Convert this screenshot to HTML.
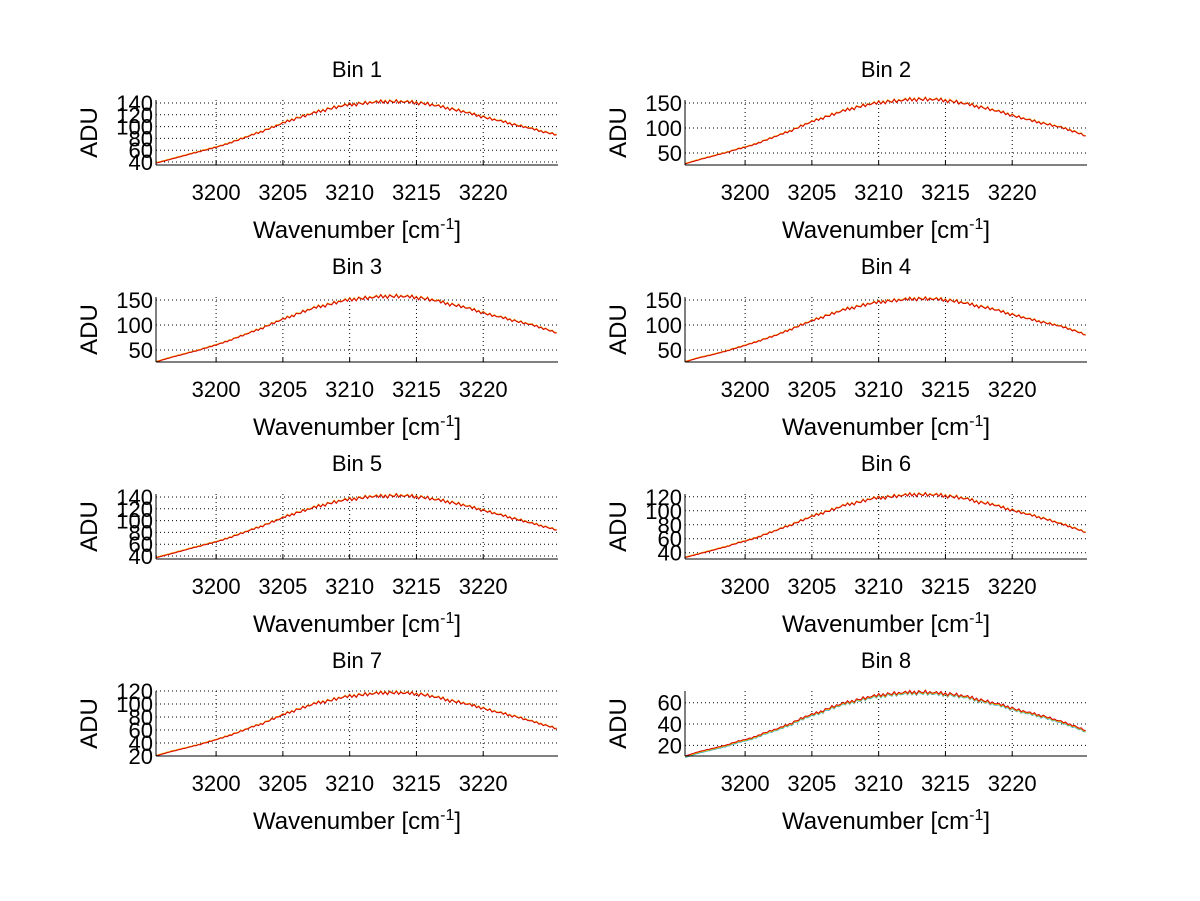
<!DOCTYPE html>
<html><head><meta charset="utf-8"><style>
html,body{margin:0;padding:0;background:#fff;}
svg{display:block;font-family:"Liberation Sans",sans-serif;}
</style></head><body>
<svg id="fig" width="1200" height="901" viewBox="0 0 1200 901"></svg>
<script>
const xTicks=[3200,3205,3210,3215,3220];
const xStart=3195.5;
const titles=["Bin 1","Bin 2","Bin 3","Bin 4","Bin 5","Bin 6","Bin 7","Bin 8"];
const yRanges=[[35,145],[26,156],[26,156],[26,156],[35,145],[31,124],[20,120],[10,71]];
const yTicks=[[40,60,80,100,120,140],[50,100,150],[50,100,150],[50,100,150],[40,60,80,100,120,140],[40,60,80,100,120],[20,40,60,80,100,120],[20,40,60]];
const bin1=[38,44,50,56,62,68,76,84,92,101,110,117,124,130,135,138,140,142,142,141,139,135,130,125,119,113,108,102,97,91,86];
const bin2=[28,36,43,50,58,65,75,85,95,107,117,126,135,142,148,152,154,157,157,156,153,148,142,136,129,121,114,108,102,94,84];
const bin3=[26,34,41,48,56,64,74,84,94,106,116,126,135,141,148,152,154,157,157,156,153,148,141,136,128,120,114,107,101,93,84];
const bin4=[26,34,40,47,55,63,72,81,92,103,113,122,131,137,143,147,149,152,152,151,148,143,137,132,124,117,110,104,98,90,80];
const bin5=[37,43,49,55,61,67,75,83,91,100,109,116,123,129,134,137,140,141,142,141,139,135,131,126,120,114,108,102,96,90,84];
const bin6=[33,38,43,48,54,59,66,73,80,88,95,101,108,112,117,119,121,123,123,122,120,117,112,109,103,98,93,88,82,76,69];
const bin7=[20,26,31,36,42,48,55,63,70,79,87,94,101,105,110,113,115,117,117,116,114,110,105,101,96,90,85,80,74,68,62];
const bin8=[10,14,17,20,24,27,32,36,41,47,51,56,60,63,66,68,69,70,70,69,68,66,63,60,57,53,50,47,43,39,34];
const series=[bin1,bin2,bin3,bin4,bin5,bin6,bin7,bin8];
const wobble=[0,1.5,-1,2,-1.5,1,-2,1.5,0,-1,2,-1.5,1,-0.5];
const NS="http://www.w3.org/2000/svg";
const svg=document.getElementById('fig');
function mk(tag,attrs,parent){const e=document.createElementNS(NS,tag);for(const k in attrs)e.setAttribute(k,attrs[k]);(parent||svg).appendChild(e);return e;}
const colX=[156,685],rowY=[100,297,494,691],W=402,H=65;
for(let i=0;i<8;i++){
  const c=i%2,r=Math.floor(i/2),x0=colX[c],y0=rowY[r];
  const g=mk('g',{});
  
  
  const [ymin,ymax]=yRanges[i];
  const xs=v=>x0+(v-xStart)*W/30.1;
  const ys=v=>y0+H-(v-ymin)/(ymax-ymin)*H;
  xTicks.forEach(t=>{const l=mk('line',{x1:xs(t),x2:xs(t),y1:y0,y2:y0+H,stroke:'#000','stroke-width':1,'stroke-dasharray':'1,3'},g);
    
    mk('line',{x1:xs(t),x2:xs(t),y1:y0+H,y2:y0+H-4,stroke:'#000'},g);
    const tx=mk('text',{x:xs(t),y:y0+H+35,'text-anchor':'middle','font-size':22},g);tx.textContent=t;
    });
  yTicks[i].forEach(t=>{const l=mk('line',{x1:x0,x2:x0+W,y1:ys(t),y2:ys(t),stroke:'#000','stroke-width':1,'stroke-dasharray':'1,3'},g);
    
    const tx=mk('text',{x:x0-3,y:ys(t)+8,'text-anchor':'end','font-size':22},g);tx.textContent=t;
    });
  const pts=[];
  const vals=series[i];
  for(let k=0;k<vals.length-1;k++){
    for(let s=0;s<6;s++){
      const f=s/6,v=vals[k]*(1-f)+vals[k+1]*f;
      const amp=(v-ymin)/(ymax-ymin)*(ymax-ymin)*0.015;
      pts.push([xs(xStart+k+f),ys(v+wobble[(k*6+s)%wobble.length]*amp)]);
    }
  }
  pts.push([xs(xStart+vals.length-1),ys(vals[vals.length-1])]);
  const d=pts.map((p,j)=>(j?'L':'M')+p[0].toFixed(1)+' '+p[1].toFixed(1)).join('');
  if(i===7){const b=mk('path',{d:d,fill:'none',stroke:'#2aa8d8','stroke-width':1,transform:'translate(0,1.5)'},g);
    
    const y=mk('path',{d:d,fill:'none',stroke:'#e8c000','stroke-width':1,transform:'translate(0,0.8)'},g);
    }
  else{const o=mk('path',{d:d,fill:'none',stroke:'#f0a000','stroke-width':1,transform:'translate(0,-0.6)'},g);
    }
  const p=mk('path',{d:d,fill:'none',stroke:'#d80000','stroke-width':1},g);
  
  mk('line',{x1:x0,x2:x0,y1:y0,y2:y0+H,stroke:'#000'},g);
  mk('line',{x1:x0,x2:x0+W,y1:y0+H,y2:y0+H,stroke:'#000'},g);
  const tt=mk('text',{x:x0+W/2,y:y0-23,'text-anchor':'middle','font-size':22},g);tt.textContent=titles[i];
  
  const yl=mk('text',{x:0,y:0,'text-anchor':'middle','font-size':24,transform:`translate(${x0-59},${y0+H/2}) rotate(-90)`},g);yl.textContent='ADU';
  
  const xl=mk('text',{x:x0+W/2,y:y0+H+73,'text-anchor':'middle','font-size':24},g);
  
  xl.innerHTML='Wavenumber [cm<tspan dy="-9" font-size="16">-1</tspan><tspan dy="9">]</tspan>';
}
</script>
</body></html>
